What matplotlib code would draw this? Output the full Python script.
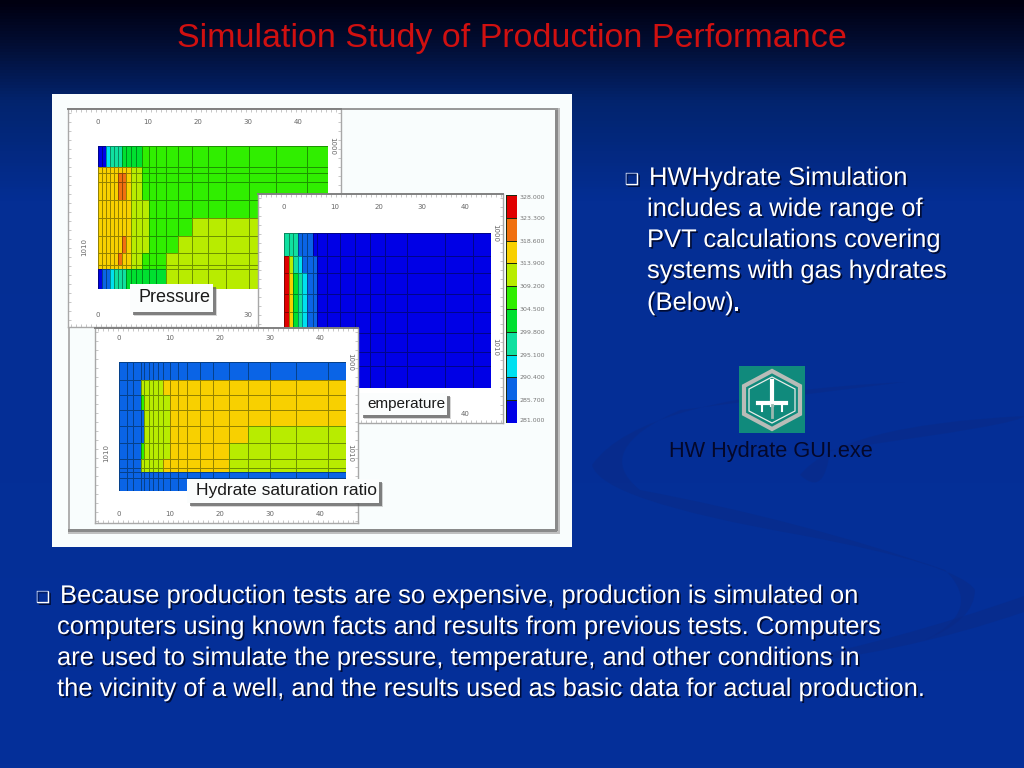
import numpy as np
import matplotlib
matplotlib.use("Agg")
import matplotlib.pyplot as plt
import matplotlib.patheffects as pe
from matplotlib.colors import ListedColormap, BoundaryNorm, LinearSegmentedColormap
from matplotlib.patches import Rectangle, Polygon, PathPatch
from matplotlib.path import Path

W, H = 1024, 768

# ---------- DATA ----------
# colour classes, low to high, as on the scale bar
class_colors = ["#0000e6", "#0a64e6", "#00e0f0", "#10e0a0", "#00e030",
                "#30ee00", "#b8ec00", "#f8d000", "#f07010", "#e00000"]
scale_values = [281.0, 285.7, 290.4, 295.1, 299.8, 304.5, 309.2, 313.9, 318.6, 323.3, 328.0]

pressure_x = [0, 0.8, 1.6, 2.3, 3.1, 3.9, 4.7, 5.5, 6.5, 7.6, 8.7, 10.1, 11.6, 13.5,
              15.9, 18.7, 21.9, 25.6, 30.1, 35.5, 41.8, 46]
pressure_y = [0, 2.07, 2.62, 3.54, 5.28, 7.11, 8.85, 10.59, 11.7, 12.1, 14.1]
pressure_rows = [
    [0, 0, 2, 3, 3, 3, 4, 4, 4, 4, 5, 5, 5, 5, 5, 5, 5, 5, 5, 5, 5],
    [7, 7, 7, 7, 7, 7, 7, 7, 6, 6, 5, 5, 5, 5, 5, 5, 5, 5, 5, 5, 5],
    [7, 7, 7, 7, 7, 8, 8, 7, 6, 6, 5, 5, 5, 5, 5, 5, 5, 5, 5, 5, 5],
    [7, 7, 7, 7, 7, 8, 8, 7, 6, 6, 5, 5, 5, 5, 5, 5, 5, 5, 5, 5, 5],
    [7, 7, 7, 7, 7, 7, 7, 7, 6, 6, 6, 5, 5, 5, 5, 5, 5, 5, 5, 5, 5],
    [7, 7, 7, 7, 7, 7, 7, 7, 6, 6, 6, 5, 5, 5, 5, 6, 6, 6, 6, 6, 6],
    [7, 7, 7, 7, 7, 7, 8, 7, 6, 6, 6, 5, 5, 5, 6, 6, 6, 6, 6, 6, 6],
    [7, 7, 7, 7, 7, 8, 7, 7, 6, 6, 5, 5, 5, 6, 6, 6, 6, 6, 6, 6, 6],
    [7, 7, 7, 7, 7, 7, 7, 7, 6, 6, 5, 5, 5, 6, 6, 6, 6, 6, 6, 6, 6],
    [0, 1, 1, 2, 3, 3, 3, 4, 4, 4, 4, 4, 4, 6, 6, 6, 6, 6, 6, 6, 6],
]

temp_x = [0, 1, 1.9, 3.2, 4.1, 5, 6.4, 7.3, 9.5, 12.4, 15.8, 19.1, 22.4, 27.3, 35.8, 41.9, 46]
temp_y = [0, 2.06, 3.53, 5.38, 6.97, 8.82, 10.5, 11.76, 13.68]
temp_rows = [
    [3, 3, 3, 1, 1, 1, 0, 0, 0, 0, 0, 0, 0, 0, 0, 0],
    [9, 6, 3, 2, 1, 1, 1, 0, 0, 0, 0, 0, 0, 0, 0, 0],
    [9, 7, 4, 3, 2, 1, 1, 0, 0, 0, 0, 0, 0, 0, 0, 0],
    [9, 7, 4, 3, 2, 1, 1, 0, 0, 0, 0, 0, 0, 0, 0, 0],
    [9, 7, 4, 3, 2, 1, 1, 0, 0, 0, 0, 0, 0, 0, 0, 0],
    [9, 7, 4, 3, 2, 1, 1, 0, 0, 0, 0, 0, 0, 0, 0, 0],
    [9, 7, 4, 3, 2, 1, 1, 0, 0, 0, 0, 0, 0, 0, 0, 0],
    [9, 7, 4, 3, 2, 1, 1, 0, 0, 0, 0, 0, 0, 0, 0, 0],
]

hydrate_x = [0, 1.5, 2.8, 4.33, 5, 6, 6.8, 7.8, 8.8, 10.1, 11.8, 13.6, 16.1, 18.8, 22,
             25.7, 30.1, 35.3, 41.8, 45.3]
hydrate_y = [0, 2, 3.56, 5.27, 7.02, 8.8, 10.62, 11.56, 12.04, 12.65, 14.07]
hydrate_rows = [
    [1] * 19,
    [1, 1, 1, 6, 6, 6, 6, 6, 7, 7, 7, 7, 7, 7, 7, 7, 7, 7, 7],
    [1, 1, 1, 5, 6, 6, 6, 6, 6, 7, 7, 7, 7, 7, 7, 7, 7, 7, 7],
    [1, 1, 1, 1, 6, 6, 6, 6, 6, 7, 7, 7, 7, 7, 7, 7, 7, 7, 7],
    [1, 1, 1, 1, 6, 6, 6, 6, 6, 7, 7, 7, 7, 7, 7, 6, 6, 6, 6],
    [1, 1, 1, 5, 6, 6, 6, 6, 6, 7, 7, 7, 7, 7, 6, 6, 6, 6, 6],
    [1, 1, 1, 6, 6, 6, 6, 6, 7, 7, 7, 7, 7, 7, 6, 6, 6, 6, 6],
    [1, 1, 1, 6, 6, 6, 6, 6, 7, 7, 7, 7, 7, 7, 6, 6, 6, 6, 6],
    [1] * 19,
    [1] * 19,
]

title = "Simulation Study of Production Performance"
side_lines = ["HWHydrate Simulation", "includes a wide range of", "PVT calculations covering",
              "systems with gas hydrates", "(Below)"]
body_lines = ["Because production tests are so expensive, production is simulated on",
              "computers using known facts and results from previous tests. Computers",
              "are used to simulate the pressure, temperature, and other conditions in",
              "the vicinity of a well, and the results used as basic data for actual production."]

# ---------- HELPERS ----------
cmap = ListedColormap(class_colors)
norm = BoundaryNorm(np.arange(-0.5, 10.5), cmap.N)
shadow = [pe.withSimplePatchShadow(offset=(1.2, -1.2), shadow_rgbFace="#00082a", alpha=0.9)]

fig = plt.figure(figsize=(W / 100, H / 100), dpi=100)


def px_axes(x0, y0, x1, y1, z):
    a = fig.add_axes([x0 / W, 1 - y1 / H, (x1 - x0) / W, (y1 - y0) / H], zorder=z)
    return a


def draw_panel(z, frame, data_box, xs, ys, rows, xlim, ylim, top_ticks, bottom_ticks, top_y, bottom_y):
    fx0, fy0, fx1, fy1 = frame
    f = px_axes(fx0, fy0, fx1, fy1, z)
    f.set_xlim(fx0, fx1)
    f.set_ylim(fy1, fy0)
    f.set_facecolor("white")
    f.set_xticks(np.arange(fx0 + 3, fx1, 5))
    f.set_yticks(np.arange(fy0 + 4, fy1, 9))
    f.tick_params(top=True, right=True, direction="in", length=2.2, width=0.5, color="#b0b0b0",
                  labelbottom=False, labelleft=False)
    for s in f.spines.values():
        s.set_color("#a8a8a8")
        s.set_linewidth(1.0)
    f.spines["top"].set_color("#808080")
    f.spines["top"].set_linewidth(1.4)
    for lab, x in top_ticks:
        f.text(x, top_y, lab, fontsize=5, color="#666666", ha="center", va="center")
    for lab, x in bottom_ticks:
        f.text(x, bottom_y, lab, fontsize=5, color="#666666", ha="center", va="center")

    d = px_axes(*data_box, z + 0.1)
    d.pcolormesh(xs, ys, np.array(rows), cmap=cmap, norm=norm,
                 edgecolors=(0, 0.05, 0, 0.4), linewidth=0.6)
    d.set_xlim(*xlim)
    d.set_ylim(*ylim)
    d.axis("off")
    return f


def label_box(z, x0, y0, x1, y1, text, tx, size):
    a = px_axes(0, 0, W, H, z)
    a.set_xlim(0, W)
    a.set_ylim(H, 0)
    a.axis("off")
    a.patch.set_alpha(0)
    a.add_patch(Rectangle((x0 + 4, y0 + 4), x1 - x0, y1 - y0, fc="#8a8a8a", ec="none", alpha=0.35))
    a.add_patch(Rectangle((x0 + 3, y0 + 3), x1 - x0, y1 - y0, fc="#5a5a5a", ec="none", alpha=0.7))
    a.add_patch(Rectangle((x0, y0), x1 - x0, y1 - y0, fc="#fbfdfd", ec="none"))
    a.text(tx, (y0 + y1) / 2, text, fontsize=size, color="#1a1a1a", family="Liberation Sans",
           ha="left", va="center")


# ---------- BACKGROUND ----------
bg = px_axes(0, 0, W, H, 0)
bg_cmap = LinearSegmentedColormap.from_list(
    "slide", [(0, "#000010"), (0.05, "#020c30"), (0.13, "#02246e"), (0.26, "#042e94"), (1, "#05309a")])
bg.imshow(np.linspace(0, 1, 256).reshape(-1, 1), cmap=bg_cmap, extent=(0, W, H, 0), aspect="auto")
bg.set_xlim(0, W)
bg.set_ylim(H, 0)
bg.axis("off")

# faint swooshes behind the text
M, C, Z = Path.MOVETO, Path.CURVE3, Path.CLOSEPOLY
sw = "#0a2a86"
swoosh1 = Path([(905, 382), (640, 395), (592, 465), (600, 500), (800, 535), (960, 565), (975, 590),
                (975, 620), (925, 640), (985, 610), (945, 570), (800, 520), (640, 490), (590, 450),
                (680, 410), (905, 382), (905, 382)],
               [M, C, C, C, C, C, C, C, C, C, C, C, C, C, C, C, Z])
swoosh2 = Path([(1024, 596), (900, 640), (760, 668), (900, 655), (1024, 612), (1024, 596)],
               [M, C, C, C, C, Z])
swoosh3 = Path([(1024, 416), (840, 425), (800, 475), (825, 498), (830, 450), (1024, 424), (1024, 416)],
               [M, C, C, C, C, C, Z])
for p in (swoosh1, swoosh2, swoosh3):
    bg.add_patch(PathPatch(p, fc=sw, ec="none", alpha=0.5))

# picture sheet
bg.add_patch(Rectangle((52, 94), 520, 453, fc="#f9fdfd", ec="none"))
bg.add_patch(Rectangle((557, 108), 3, 426, fc="#c0c0c0", ec="none"))
bg.add_patch(Rectangle((555, 108), 3, 424, fc="#8a8a8a", ec="none"))
bg.add_patch(Rectangle((68, 531), 492, 2.5, fc="#c0c0c0", ec="none"))
bg.add_patch(Rectangle((68, 529), 489, 2.5, fc="#8a8a8a", ec="none"))
bg.add_patch(Rectangle((68, 108), 1.5, 421, fc="#b0b0b0", ec="none"))
bg.add_patch(Rectangle((68, 108), 490, 1.5, fc="#999999", ec="none"))

# icon
bg.add_patch(Rectangle((739, 366), 66, 67, fc="#108a7c", ec="none"))
hexagon = [(772, 371), (800, 386), (800, 414), (772, 429), (744, 414), (744, 386)]
bg.add_patch(Polygon(hexagon, closed=True, fill=False, ec="#b8bcb8", lw=3))
inner = [(772, 377), (795, 389), (795, 411), (772, 423), (749, 411), (749, 389)]
bg.add_patch(Polygon(inner, closed=True, fill=False, ec="#e8ece8", lw=0.9))
bg.plot([772, 772], [381, 405], color="white", lw=3)
bg.plot([758, 786], [403, 403], color="white", lw=3)
bg.plot([762, 762], [403, 411], color="white", lw=1.5)
bg.plot([782, 782], [403, 411], color="white", lw=1.5)
bg.plot([772, 772], [405, 417], color="#9ab8b0", lw=2)

bg.text(771, 451, "HW Hydrate GUI.exe", fontsize=15.7, color="#04082a", family="Liberation Sans",
        ha="center", va="center")

bg.text(512, 38, title, fontsize=24.5, color="#d01010", family="Liberation Sans", ha="center", va="center")

for y, line in zip([178, 209, 240, 271, 303], side_lines):
    x = 649 if y == 178 else 647
    bg.text(x, y, line, fontsize=18.4, color="white", family="Liberation Sans", ha="left", va="center",
            path_effects=shadow)
bg.text(733, 304, ".", fontsize=18.4, color="white", fontweight="bold", family="Liberation Sans",
        ha="left", va="center", path_effects=shadow)
bg.text(632, 180, "\u2751", fontsize=11.5, color="white", family="DejaVu Sans", ha="center", va="center",
        path_effects=shadow)

for y, line in zip([596, 627, 658, 689], body_lines):
    x = 60 if y == 596 else 57
    bg.text(x, y, line, fontsize=18.4, color="white", family="Liberation Sans", ha="left", va="center",
            path_effects=shadow)
bg.text(43, 598, "\u2751", fontsize=11.5, color="white", family="DejaVu Sans", ha="center", va="center",
        path_effects=shadow)

# ---------- PANELS ----------
f1 = draw_panel(1, (68, 109, 341, 327), (98, 146, 328, 289), pressure_x, pressure_y, pressure_rows,
                (0, 46), (14.1, 0),
                [("0", 98), ("10", 148), ("20", 198), ("30", 248), ("40", 298)],
                [("0", 98), ("30", 248)], 122, 315)
f1.text(84, 247, "1010", fontsize=5, color="#666666", rotation=90, ha="center", va="center")
f1.text(332, 146, "1000", fontsize=5, color="#666666", rotation=-90, ha="center", va="center")
label_box(1.5, 130, 284, 213, 312, "Pressure", 139, 13)

f2 = draw_panel(2, (258, 194, 503, 423), (284, 233, 491, 388), temp_x, temp_y, temp_rows,
                (0, 46), (13.68, 0),
                [("0", 284), ("10", 335), ("20", 379), ("30", 422), ("40", 465)],
                [("40", 465)], 207, 414)
f2.text(495, 233, "1000", fontsize=5, color="#666666", rotation=-90, ha="center", va="center")
f2.text(495, 347, "1010", fontsize=5, color="#666666", rotation=-90, ha="center", va="center")
label_box(2.5, 360, 393, 447, 415, "emperature", 367, 11)

f3 = draw_panel(3, (95, 328, 358, 523), (119, 362, 346, 491), hydrate_x, hydrate_y, hydrate_rows,
                (0, 45.3), (14.07, 0),
                [("0", 119), ("10", 170), ("20", 220), ("30", 270), ("40", 320)],
                [("0", 119), ("10", 170), ("20", 220), ("30", 270), ("40", 320)], 338, 514)
f3.text(106, 453, "1010", fontsize=5, color="#666666", rotation=90, ha="center", va="center")
f3.text(350, 362, "1000", fontsize=5, color="#666666", rotation=-90, ha="center", va="center")
f3.text(350, 453, "1010", fontsize=5, color="#666666", rotation=-90, ha="center", va="center")
label_box(3.5, 187, 479, 379, 503, "Hydrate saturation ratio", 196, 12.5)

# ---------- SCALE BAR ----------
cb = px_axes(506, 195, 517, 423, 4)
cb.pcolormesh([0, 1], scale_values, np.arange(10).reshape(-1, 1), cmap=cmap, norm=norm,
              edgecolors="#1a2a10", linewidth=0.6)
cb.set_ylim(scale_values[0], scale_values[-1])
cb.set_xticks([])
cb.yaxis.tick_right()
cb.set_yticks(scale_values)
cb.set_yticklabels([f"{v:.3f}" for v in scale_values])
cb.tick_params(axis="y", length=0, pad=2, labelsize=4.5, labelcolor="#777777")
labels = cb.get_yticklabels()
labels[0].set_va("bottom")
labels[-1].set_va("top")
for s in cb.spines.values():
    s.set_visible(False)

fig.savefig("out.png", dpi=100)
